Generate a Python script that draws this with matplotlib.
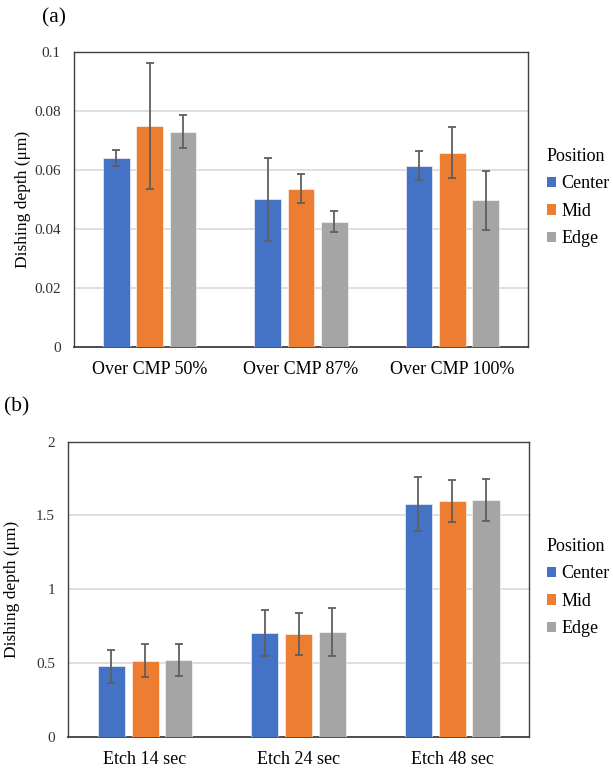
import matplotlib
matplotlib.use("Agg")
import matplotlib.pyplot as plt
import numpy as np
from matplotlib.patches import Patch
from matplotlib.ticker import FuncFormatter

plt.rcParams['font.family'] = ['Liberation Serif', 'DejaVu Serif']

positions = ["Center", "Mid", "Edge"]
colors = ["#4472C4", "#ED7D31", "#A5A5A5"]

cats_a = ["Over CMP 50%", "Over CMP 87%", "Over CMP 100%"]
vals_a = {
    "Center": [0.0639, 0.0499, 0.0614],
    "Mid":    [0.0748, 0.0536, 0.0658],
    "Edge":   [0.0729, 0.0424, 0.0497],
}
errs_a = {
    "Center": [0.0028, 0.0141, 0.0050],
    "Mid":    [0.0212, 0.0049, 0.0086],
    "Edge":   [0.0057, 0.0036, 0.0100],
}
yticks_a = [0, 0.02, 0.04, 0.06, 0.08, 0.1]

cats_b = ["Etch 14 sec", "Etch 24 sec", "Etch 48 sec"]
vals_b = {
    "Center": [0.477, 0.705, 1.578],
    "Mid":    [0.515, 0.696, 1.598],
    "Edge":   [0.520, 0.712, 1.605],
}
errs_b = {
    "Center": [0.113, 0.155, 0.184],
    "Mid":    [0.113, 0.140, 0.143],
    "Edge":   [0.108, 0.163, 0.143],
}
yticks_b = [0, 0.5, 1, 1.5, 2]

W, H = 613, 769
fig = plt.figure(figsize=(W / 100, H / 100), dpi=100)

def px_rect(l, t, r, b):
    return [l / W, 1 - b / H, (r - l) / W, (b - t) / H]

def draw(ax, cats, vals, errs, yticks, ylabel_x):
    x = np.arange(len(cats))
    bw = 0.176
    offs = [-0.22, 0.0, 0.22]
    for i, p in enumerate(positions):
        ax.bar(x + offs[i], vals[p], width=bw, color=colors[i], zorder=3,
               edgecolor='white', linewidth=0.4)
        ax.errorbar(x + offs[i], vals[p], yerr=errs[p], fmt='none',
                    ecolor='#5f5f5f', elinewidth=1.3, capsize=2.6,
                    capthick=1.3, zorder=4)
    ax.set_xlim(-0.5, len(cats) - 0.5)
    ax.set_ylim(yticks[0], yticks[-1])
    ax.set_yticks(yticks)
    ax.yaxis.set_major_formatter(FuncFormatter(lambda v, pos: f"{v:g}"))
    ax.set_xticks(x)
    ax.set_xticklabels(cats, fontsize=13)
    ax.tick_params(axis='y', length=0, pad=9.5, labelsize=11, colors='#333333')
    ax.tick_params(axis='x', length=0, pad=10, labelsize=13)
    ax.grid(axis='y', color='#D9D9D9', linewidth=1.2, zorder=0)
    ax.set_axisbelow(True)
    for s in ax.spines.values():
        s.set_color('#404040')
        s.set_linewidth(1.0)
    ax.spines['bottom'].set_linewidth(1.3)
    ax.set_ylabel("Dishing depth (μm)", fontsize=12.5)
    ax.yaxis.set_label_coords(ylabel_x, 0.5)

ax1 = fig.add_axes(px_rect(74, 51.7, 528, 346.7))
draw(ax1, cats_a, vals_a, errs_a, yticks_a, (31.5 - 74) / 454)
ax2 = fig.add_axes(px_rect(68.3, 441.7, 529, 736.7))
draw(ax2, cats_b, vals_b, errs_b, yticks_b, (20 - 68.3) / 460.7)

handles = [Patch(facecolor=c, edgecolor='none') for c in colors]

def add_legend(ypx):
    leg = fig.legend(handles, positions, title="Position",
                     loc='upper left', bbox_to_anchor=(547 / W, 1 - ypx / H),
                     frameon=False, fontsize=13, title_fontsize=13,
                     handlelength=0.5, handleheight=0.5, handletextpad=0.3,
                     labelspacing=0.58, borderpad=0, borderaxespad=0,
                     alignment='left')
    return leg

add_legend(148)
add_legend(538)

fig.text(42 / W, 1 - 18 / H, "(a)", fontsize=15.5, va='center', ha='left')
fig.text(4 / W, 1 - 407 / H, "(b)", fontsize=15.5, va='center', ha='left')

fig.savefig("out.png", dpi=100)
